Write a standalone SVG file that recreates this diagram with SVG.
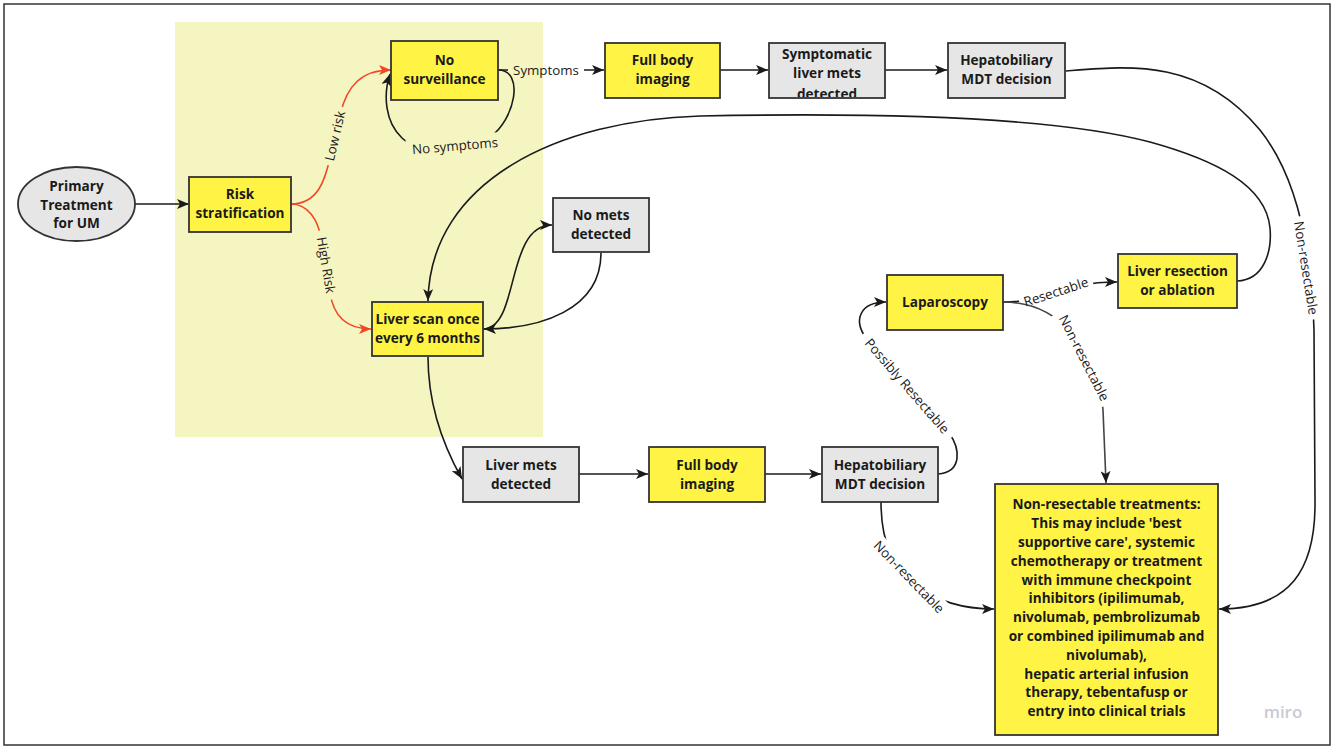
<svg xmlns="http://www.w3.org/2000/svg" width="1334" height="749" viewBox="0 0 1334 749">
<style>
.box{stroke:#333;stroke-width:1.8}
.y{fill:#fff445}
.g{fill:#e6e6e6}
.t{font-family:"Open Sans","DejaVu Sans",sans-serif;font-weight:700;font-size:13.6px;fill:#1a1a1a;text-anchor:middle}
.l{font-family:"Open Sans","DejaVu Sans",sans-serif;font-weight:400;font-size:13.3px;fill:#1a1a1a;text-anchor:middle}
.c{fill:none;stroke:#1a1a1a;stroke-width:1.6}
.r{fill:none;stroke:#f24726;stroke-width:1.6}
</style>
<defs>
<marker id="ah" viewBox="0 0 12 10" refX="12" refY="5" markerWidth="12" markerHeight="10" orient="auto" markerUnits="userSpaceOnUse"><path d="M0,0 L12,5 L0,10 L3,5 z" fill="#1a1a1a"/></marker>
<marker id="ar" viewBox="0 0 12 10" refX="12" refY="5" markerWidth="12" markerHeight="10" orient="auto" markerUnits="userSpaceOnUse"><path d="M0,0 L12,5 L0,10 L3,5 z" fill="#f24726"/></marker>
<mask id="mLow" maskUnits="userSpaceOnUse" x="0" y="0" width="1334" height="749"><rect width="1334" height="749" fill="#fff"/><rect x="-30" y="-9" width="60" height="18" fill="#000" transform="translate(335,136) rotate(-77)"/></mask>
<mask id="mHigh" maskUnits="userSpaceOnUse" x="0" y="0" width="1334" height="749"><rect width="1334" height="749" fill="#fff"/><rect x="-35" y="-9" width="70" height="18" fill="#000" transform="translate(326,265) rotate(80.5)"/></mask>
<mask id="mSym" maskUnits="userSpaceOnUse" x="0" y="0" width="1334" height="749"><rect width="1334" height="749" fill="#fff"/><rect x="508" y="60" width="76" height="20" fill="#000"/></mask>
<mask id="mNoS" maskUnits="userSpaceOnUse" x="0" y="0" width="1334" height="749"><rect width="1334" height="749" fill="#fff"/><rect x="-49" y="-10" width="98" height="20" fill="#000" transform="translate(455,146) rotate(-5)"/></mask>
<mask id="mPos" maskUnits="userSpaceOnUse" x="0" y="0" width="1334" height="749"><rect width="1334" height="749" fill="#fff"/><rect x="-68" y="-10" width="136" height="20" fill="#000" transform="translate(907,386) rotate(49)"/></mask>
<mask id="mRes" maskUnits="userSpaceOnUse" x="0" y="0" width="1334" height="749"><rect width="1334" height="749" fill="#fff"/><rect x="-38" y="-10" width="76" height="20" fill="#000" transform="translate(1056,292) rotate(-18)"/></mask>
<mask id="mNR1" maskUnits="userSpaceOnUse" x="0" y="0" width="1334" height="749"><rect width="1334" height="749" fill="#fff"/><rect x="-52" y="-10" width="104" height="20" fill="#000" transform="translate(1084,358) rotate(63)"/></mask>
<mask id="mNR2" maskUnits="userSpaceOnUse" x="0" y="0" width="1334" height="749"><rect width="1334" height="749" fill="#fff"/><rect x="-52" y="-10" width="104" height="20" fill="#000" transform="translate(1306,268) rotate(81)"/></mask>
<mask id="mNR3" maskUnits="userSpaceOnUse" x="0" y="0" width="1334" height="749"><rect width="1334" height="749" fill="#fff"/><rect x="-52" y="-10" width="104" height="20" fill="#000" transform="translate(909,577) rotate(46)"/></mask>
<clipPath id="cSym"><rect x="769" y="43" width="116" height="54"/></clipPath>
</defs>
<rect x="0" y="0" width="1334" height="749" fill="#fff"/>
<rect x="4" y="4" width="1326" height="741" fill="#fff" stroke="#333" stroke-width="1.5"/>
<rect x="175" y="22" width="368" height="415" fill="#f5f5c2"/>

<g id="connectors">
<path class="c" d="M135,204 L189,204" marker-end="url(#ah)"/>
<path class="r" mask="url(#mLow)" d="M291,204 C318,204 325,180 330,158 L340,115 C347,85 362,70 391,70" marker-end="url(#ar)"/>
<path class="r" mask="url(#mHigh)" d="M291,204 C308,204 318,220 321,238 L330,292 C333,315 345,329 371,329" marker-end="url(#ar)"/>
<path class="c" mask="url(#mSym)" d="M498,70 L604,70" marker-end="url(#ah)"/>
<path class="c" mask="url(#mNoS)" d="M498,70 C525,70 515,120 490,137 C465,155 420,155 402,138 C385,122 383,95 390,74" marker-end="url(#ah)"/>
<path class="c" d="M720,70 L768,70" marker-end="url(#ah)"/>
<path class="c" d="M885,70 L947,70" marker-end="url(#ah)"/>
<path class="c" mask="url(#mNR2)" d="M1066,71 C1130,66 1200,58 1260,130 C1300,180 1312,260 1314,330 L1315,500 C1316,570 1290,609 1219,609" marker-end="url(#ah)"/>
<path class="c" d="M1237,281 C1265,280 1272,250 1270,228 C1266,185 1215,160 1150,142 C1060,118 900,112 700,116 C560,120 430,180 428,301" marker-end="url(#ah)"/>
<path class="c" d="M483,329 C520,329 505,225 552,225" marker-end="url(#ah)"/>
<path class="c" d="M601,253 C601,310 540,329 484,329" marker-end="url(#ah)"/>
<path class="c" d="M428,357 C428,400 440,440 462,479" marker-end="url(#ah)"/>
<path class="c" d="M579,474 L648,474" marker-end="url(#ah)"/>
<path class="c" d="M765,474 L821,474" marker-end="url(#ah)"/>
<path class="c" mask="url(#mPos)" d="M938,474 C963,472 960,448 949,433 L866,338 C853,320 860,302 886,302" marker-end="url(#ah)"/>
<path class="c" mask="url(#mNR3)" d="M881,502 C881,545 895,570 915,585 C935,600 960,609 994,609" marker-end="url(#ah)"/>
<path class="c" mask="url(#mRes)" d="M1003,302 C1050,302 1060,282 1117,282" marker-end="url(#ah)"/>
<path class="c" mask="url(#mNR1)" style="stroke:#444" d="M1003,302 C1060,302 1098,350 1103,410 L1106,483" marker-end="url(#ah)"/>
<text class="l" transform="translate(335,136) rotate(-77)" y="4.6">Low risk</text>
<text class="l" transform="translate(326,265) rotate(80.5)" y="4.6">High Risk</text>
<text class="l" x="546" y="74.6">Symptoms</text>
<text class="l" transform="translate(455,146) rotate(-5)" y="4.6">No symptoms</text>
<text class="l" transform="translate(907,386) rotate(49)" y="4.6">Possibly Resectable</text>
<text class="l" transform="translate(1056,292) rotate(-18)" y="4.6">Resectable</text>
<text class="l" transform="translate(1084,358) rotate(63)" y="4.6">Non-resectable</text>
<text class="l" transform="translate(1306,268) rotate(81)" y="4.6">Non-resectable</text>
<text class="l" transform="translate(909,577) rotate(46)" y="4.6">Non-resectable</text>
</g>

<g id="primary">
<ellipse class="box g" cx="76.5" cy="204" rx="58.5" ry="37"/>
<text class="t" x="76.5" y="191.2">Primary</text>
<text class="t" x="76.5" y="209.7">Treatment</text>
<text class="t" x="76.5" y="228.2">for UM</text>
</g>
<g id="risk">
<rect class="box y" x="189" y="177" width="102" height="55"/>
<text class="t" x="240" y="198.7">Risk</text>
<text class="t" x="240" y="217.7">stratification</text>
</g>
<g id="nosurv">
<rect class="box y" x="391" y="41" width="107" height="59"/>
<text class="t" x="444.5" y="65.2">No</text>
<text class="t" x="444.5" y="84.2">surveillance</text>
</g>
<g id="fullbody1">
<rect class="box y" x="605" y="43" width="115" height="55"/>
<text class="t" x="662.5" y="65.2">Full body</text>
<text class="t" x="662.5" y="84.2">imaging</text>
</g>
<g id="symptomatic">
<rect class="box g" x="769" y="43" width="116" height="55"/>
<g clip-path="url(#cSym)">
<text class="t" x="827" y="59.2">Symptomatic</text>
<text class="t" x="827" y="78.2">liver mets</text>
<text class="t" x="827" y="98.6">detected</text>
</g>
</g>
<g id="hepato1">
<rect class="box g" x="948" y="43" width="117" height="55"/>
<text class="t" x="1006.5" y="65.2">Hepatobiliary</text>
<text class="t" x="1006.5" y="84.2">MDT decision</text>
</g>
<g id="nomets">
<rect class="box g" x="553" y="198" width="96" height="54"/>
<text class="t" x="601" y="220.2">No mets</text>
<text class="t" x="601" y="239.2">detected</text>
</g>
<g id="liverscan">
<rect class="box y" x="372" y="302" width="111" height="54"/>
<text class="t" x="427.5" y="324.2">Liver scan once</text>
<text class="t" x="427.5" y="343.2">every 6 months</text>
</g>
<g id="livermets">
<rect class="box g" x="463" y="447" width="116" height="55"/>
<text class="t" x="521" y="469.7">Liver mets</text>
<text class="t" x="521" y="488.7">detected</text>
</g>
<g id="fullbody2">
<rect class="box y" x="649" y="447" width="116" height="55"/>
<text class="t" x="707" y="469.7">Full body</text>
<text class="t" x="707" y="488.7">imaging</text>
</g>
<g id="hepato2">
<rect class="box g" x="822" y="447" width="116" height="55"/>
<text class="t" x="880" y="469.7">Hepatobiliary</text>
<text class="t" x="880" y="488.7">MDT decision</text>
</g>
<g id="laparoscopy">
<rect class="box y" x="887" y="275" width="116" height="55"/>
<text class="t" x="945" y="307.2">Laparoscopy</text>
</g>
<g id="resection">
<rect class="box y" x="1118" y="254" width="119" height="54"/>
<text class="t" x="1177.5" y="276.2">Liver resection</text>
<text class="t" x="1177.5" y="295.2">or ablation</text>
</g>
<g id="nonres">
<rect class="box y" x="995" y="484" width="223" height="251"/>
<text class="t" x="1106.5" y="509">Non-resectable treatments:</text>
<text class="t" x="1106.5" y="528">This may include 'best</text>
<text class="t" x="1106.5" y="546.7">supportive care', systemic</text>
<text class="t" x="1106.5" y="565.7">chemotherapy or treatment</text>
<text class="t" x="1106.5" y="584.7">with immune checkpoint</text>
<text class="t" x="1106.5" y="603.4">inhibitors (ipilimumab,</text>
<text class="t" x="1106.5" y="622">nivolumab, pembrolizumab</text>
<text class="t" x="1106.5" y="640.7">or combined ipilimumab and</text>
<text class="t" x="1106.5" y="659.7">nivolumab),</text>
<text class="t" x="1106.5" y="678.7">hepatic arterial infusion</text>
<text class="t" x="1106.5" y="697.4">therapy, tebentafusp or</text>
<text class="t" x="1106.5" y="716.4">entry into clinical trials</text>
</g>
<text x="1283" y="718" font-family="'Open Sans','DejaVu Sans',sans-serif" font-size="17" font-weight="600" fill="#cacad4" text-anchor="middle">miro</text>
</svg>
